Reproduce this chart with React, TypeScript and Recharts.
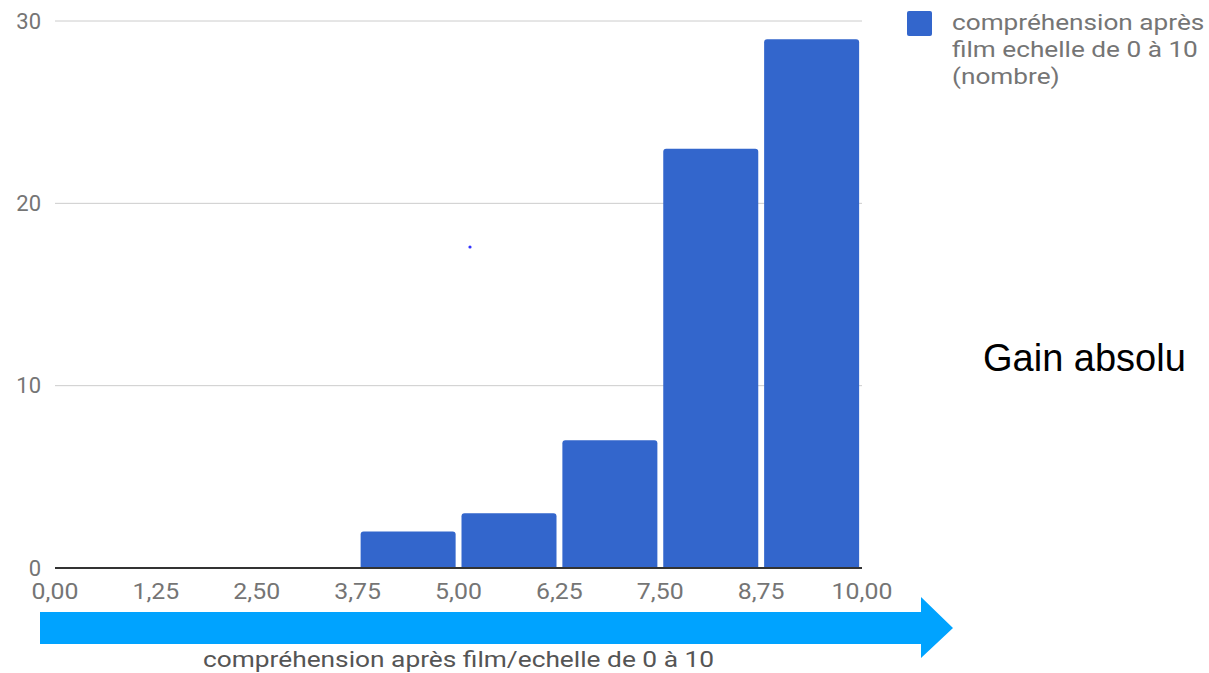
import React from 'react';
import { BarChart, Bar, XAxis, YAxis, CartesianGrid, Legend } from 'recharts';

// histogram bins (centre of each 1.25-wide bin) and counts
const binCenters = [0.625, 1.875, 3.125, 4.375, 5.625, 6.875, 8.125, 9.375];
const counts = [0, 0, 0, 2, 3, 7, 23, 29];
const xTicks = [0, 1.25, 2.5, 3.75, 5, 6.25, 7.5, 8.75, 10];
const yTicks = [0, 10, 20, 30];

const seriesName = 'compréhension après film echelle de 0 à 10 (nombre)';
const legendLines = ['compréhension après', 'film echelle de 0 à 10', '(nombre)'];
const axisTitle = 'compréhension après film/echelle de 0 à 10';
const sideNote = 'Gain absolu';

const data = binCenters.map((x, i) => ({ x, count: counts[i] }));

const BAR_COLOR = '#3366CC';
const TEXT_GRAY = '#757575';
const FONT = 'Roboto, sans-serif';

const formatTick = (v: number) => v.toFixed(2).replace('.', ',');

// the source text is a bit stretched horizontally
function XTick(props: any) {
  const { x, y, payload } = props;
  return (
    <g transform={`translate(${x},${y})`}>
      <text
        transform="scale(1.13,1)"
        textAnchor="middle"
        dy="0.71em"
        fill={TEXT_GRAY}
        fontSize={22}
        fontFamily={FONT}
      >
        {formatTick(payload.value)}
      </text>
    </g>
  );
}

function AxisTitle(props: any) {
  const { viewBox } = props;
  const cx = viewBox.x + viewBox.width / 2;
  const by = viewBox.y + viewBox.height - 1;
  return (
    <text
      x={cx}
      y={by}
      textAnchor="middle"
      fill="#555555"
      fontSize={22}
      fontFamily={FONT}
      textLength={511}
      lengthAdjust="spacingAndGlyphs"
    >
      {axisTitle}
    </text>
  );
}

function LegendBox() {
  return (
    <div style={{ display: 'flex', alignItems: 'flex-start', fontFamily: FONT }}>
      <div
        style={{
          width: 25,
          height: 25,
          background: BAR_COLOR,
          borderRadius: 2,
          marginTop: 2,
          marginRight: 20,
          flexShrink: 0,
        }}
      />
      <div
        style={{
          color: TEXT_GRAY,
          fontSize: 22,
          lineHeight: '27px',
          transform: 'scaleX(1.19)',
          transformOrigin: 'left top',
        }}
      >
        {legendLines.map((l) => (
          <div key={l} style={{ whiteSpace: 'nowrap' }}>{l}</div>
        ))}
      </div>
    </div>
  );
}

export default function App() {
  return (
    <div
      style={{
        position: 'absolute',
        left: 0,
        top: 0,
        width: 1209,
        height: 673,
        background: '#fff',
        overflow: 'hidden',
      }}
    >
      <BarChart
        width={1209}
        height={673}
        data={data}
        margin={{ top: 21, right: 45, bottom: 5, left: 10 }}
      >
        <CartesianGrid horizontal vertical={false} stroke="#cccccc" />
        <XAxis
          dataKey="x"
          type="number"
          domain={[0, 10]}
          ticks={xTicks}
          interval={0}
          height={100}
          tickLine={false}
          tickSize={6}
          tickMargin={9}
          axisLine={{ stroke: '#333333', strokeWidth: 2 }}
          tick={<XTick />}
          label={<AxisTitle />}
        />
        <YAxis
          domain={[0, 30]}
          ticks={yTicks}
          width={45}
          tickLine={false}
          axisLine={false}
          tickSize={6}
          tickMargin={8}
          tick={{ fill: TEXT_GRAY, fontSize: 22, fontFamily: FONT }}
        />
        <Legend
          verticalAlign="top"
          align="right"
          layout="vertical"
          content={() => <LegendBox />}
          wrapperStyle={{ top: 9, left: 907, width: 302 }}
        />
        <Bar
          dataKey="count"
          name={seriesName}
          fill={BAR_COLOR}
          barSize={95}
          radius={[3, 3, 0, 0]}
          isAnimationActive={false}
        />
      </BarChart>

      {/* annotation arrow under the axis */}
      <svg
        width={1209}
        height={673}
        style={{ position: 'absolute', left: 0, top: 0, pointerEvents: 'none' }}
      >
        <polygon
          points="40,612 921,612 921,597 953,628 921,658 921,644 40,644"
          fill="#00A3FF"
        />
        <circle cx={470} cy={247} r={1.6} fill="#3333ff" />
      </svg>

      <div
        style={{
          position: 'absolute',
          left: 983,
          top: 337,
          fontFamily: '"Liberation Sans", Arial, sans-serif',
          fontSize: 38,
          color: '#000',
          whiteSpace: 'nowrap',
        }}
      >
        {sideNote}
      </div>
    </div>
  );
}
